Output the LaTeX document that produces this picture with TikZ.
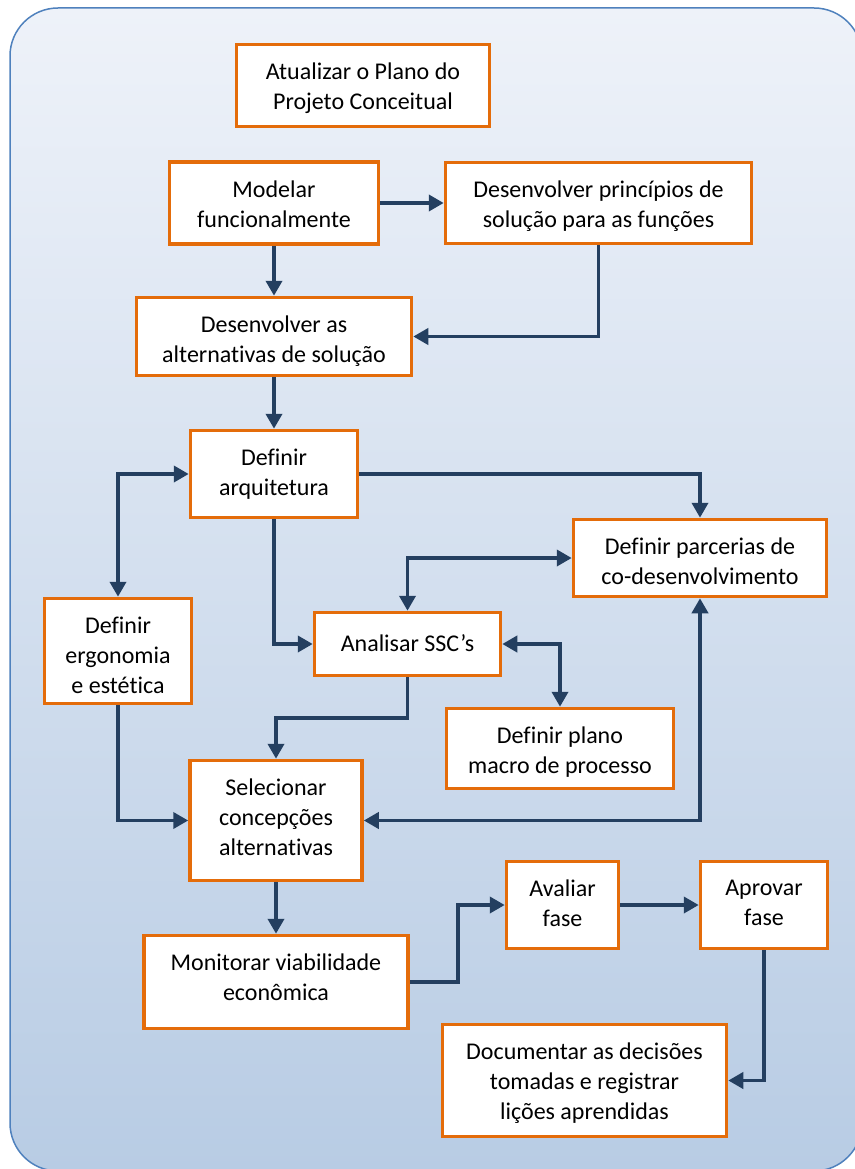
\documentclass[tikz,border=0pt]{standalone}
\usepackage{fontspec}
\setmainfont[Ligatures=NoCommon]{Carlito}
\usepackage{tikz}
\usetikzlibrary{arrows.meta,calc}
\definecolor{boxorange}{HTML}{E46C0A}
\definecolor{flowblue}{HTML}{243F60}
\definecolor{bgtop}{HTML}{EEF2F9}
\definecolor{bgbot}{HTML}{B8CCE4}
\definecolor{bgline}{HTML}{4F81BD}

\begin{document}
\begin{tikzpicture}[
    x=1pt,y=-1pt,>={Triangle[length=15pt,width=16pt]},
    box/.style={draw=boxorange,line width=3.5pt,fill=white,inner sep=0pt},
    boxtext/.style={anchor=north,align=center,inner sep=0pt,yshift=-20pt,
      font=\fontsize{24}{30}\selectfont,execute at begin node=\strut},
    flow/.style={->,draw=flowblue,line width=3.8pt},
    both/.style={<->,draw=flowblue,line width=3.8pt}
]
\useasboundingbox (0,0) rectangle (854,1169);

% panel
\shade[top color=bgtop,bottom color=bgbot,rounded corners=48pt]
  (10,8) rectangle (862,1171);
\draw[bgline,line width=1.5pt,rounded corners=48pt] (10,8) rectangle (862,1171);

% activities
\node[box,minimum width=253pt,minimum height=82pt,
  label={[boxtext]north:{Atualizar o Plano do\\Projeto Conceitual}}]
  (plano) at (363,85.5) {};
\node[box,minimum width=209pt,minimum height=82pt,
  label={[boxtext]north:{Modelar\\funcionalmente}}]
  (modelar) at (274,203) {};
\node[box,minimum width=306pt,minimum height=81pt,
  label={[boxtext]north:{Desenvolver princípios de\\solução para as funções}}]
  (principios) at (598.5,203) {};
\node[box,minimum width=275pt,minimum height=78pt,
  label={[boxtext]north:{Desenvolver as\\alternativas de solução}}]
  (desalt) at (274,336.5) {};
\node[box,minimum width=167pt,minimum height=87pt,
  label={[boxtext]north:{Definir\\arquitetura}}]
  (arquitetura) at (274,474) {};
\node[box,minimum width=253pt,minimum height=77pt,
  label={[boxtext]north:{Definir parcerias de\\co-desenvolvimento}}]
  (parcerias) at (700,558) {};
\node[box,minimum width=147pt,minimum height=105pt,
  label={[boxtext]north:{Definir\\ergonomia\\e estética}}]
  (ergonomia) at (118,651) {};
\node[box,minimum width=186pt,minimum height=63pt,
  label={[boxtext]north:{Analisar SSC’s}}]
  (analisar) at (407.5,644) {};
\node[box,minimum width=227pt,minimum height=80pt,
  label={[boxtext]north:{Definir plano\\macro de processo}}]
  (macro) at (560,748.5) {};
\node[box,minimum width=172pt,minimum height=120pt,
  label={[boxtext]north:{Selecionar\\concepções\\alternativas}}]
  (selecionar) at (276,820.5) {};
\node[box,minimum width=264pt,minimum height=93pt,
  label={[boxtext]north:{Monitorar viabilidade\\econômica}}]
  (monitorar) at (276,982) {};
\node[box,minimum width=112pt,minimum height=87pt,
  label={[boxtext]north:{Avaliar\\fase}}]
  (avaliar) at (562.5,905) {};
\node[box,minimum width=127pt,minimum height=87pt,
  label={[boxtext]north:{Aprovar\\fase}}]
  (aprovar) at (764,905) {};
\node[box,minimum width=284pt,minimum height=112pt,
  label={[boxtext]north:{Documentar as decisões\\tomadas e registrar\\lições aprendidas}}]
  (documentar) at (584.5,1080.5) {};

% connectors
\draw[flow] (modelar.east) -- (principios.west);
\draw[flow] (modelar.south) -- (desalt.north);
\draw[flow] (principios.south) |- (desalt.east);
\draw[flow] (desalt.south) -- (arquitetura.north);
\draw[both] (ergonomia.north) |- (arquitetura.west);
\draw[flow] (arquitetura.east) -| (parcerias.north);
\draw[flow] (arquitetura.south) |- (analisar.west);
\draw[both] (analisar.north) |- (parcerias.west);
\draw[both] (analisar.east) -| (macro.north);
\draw[flow] (analisar.south) -- ++(0,41) -| (selecionar.north);
\draw[flow] (ergonomia.south) |- (selecionar.west);
\draw[both] (selecionar.east) -| (parcerias.south);
\draw[flow] (selecionar.south) -- (monitorar.north);
\draw[flow] (monitorar.east) -- ++(48,0) |- (avaliar.west);
\draw[flow] (avaliar.east) -- (aprovar.west);
\draw[flow] (aprovar.south) |- (documentar.east);
\end{tikzpicture}
\end{document}
